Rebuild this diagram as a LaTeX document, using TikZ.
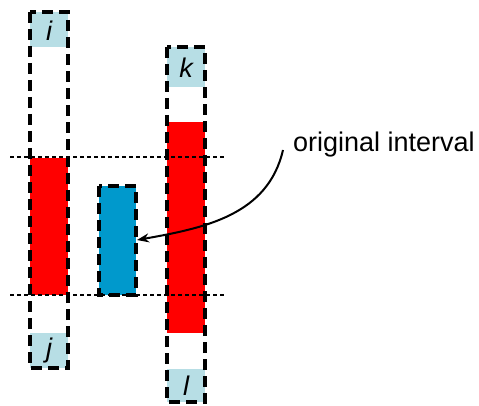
\documentclass[tikz,border=0pt]{standalone}
\usepackage{fontspec}
\setmainfont{Liberation Sans}
\usetikzlibrary{calc}
\usetikzlibrary{arrows.meta}
\definecolor{labelteal}{RGB}{183,222,229}
\definecolor{intblue}{RGB}{0,153,204}
\tikzset{
  bar/.style={dash pattern=on 11pt off 6pt, line width=3.5pt},
  level/.style={dash pattern=on 4pt off 3pt, line width=1.2pt},
  lbl/.style={font=\fontsize{27}{27}\selectfont\itshape, inner sep=0pt}
}

\begin{document}
\begin{tikzpicture}[x=1pt,y=-1pt]
\useasboundingbox (0,0) rectangle (479,406);
\begin{scope}[labelteal]
\fill  (30,12) rectangle (68,47);
\fill  (30,333) rectangle (68,368);
\fill  (167,47) rectangle (205,87);
\fill  (167,369) rectangle (205,402);
\end{scope}
\begin{scope}[red]
\fill  (30,158) rectangle (68,295);
\fill  (167,122) rectangle (205,333);
\end{scope}
\fill[intblue]  (99,186) rectangle (136,295);
% the levels
\draw[level] (10,157) -- (225,157);
\draw[level] (10,295) -- (225,295);
% the bars
\draw[bar]  (30,12) rectangle (68,368);
\draw[bar]  (167,47) rectangle (205,402);
\draw[bar]  (99,186) rectangle (136,295);
% end labels
\node[lbl] (i) at (49,31) {i};
\node[lbl] (j) at (49,351) {j};
\node[lbl] (k) at (186,68) {k};
\node[lbl] (l) at (186,386) {l};
% the pointer
\node[font=\fontsize{27}{27}\selectfont, inner sep=0pt, anchor=base west] (orig) at (293,152) {original interval};
\coordinate (tip) at (137,240);
\draw[line width=2pt, -{Stealth[length=12pt,width=9pt]}] ($(orig.base west)+(-10,-2)$) .. controls (268,215) and (205,228) .. (tip);
\end{tikzpicture}
\end{document}
